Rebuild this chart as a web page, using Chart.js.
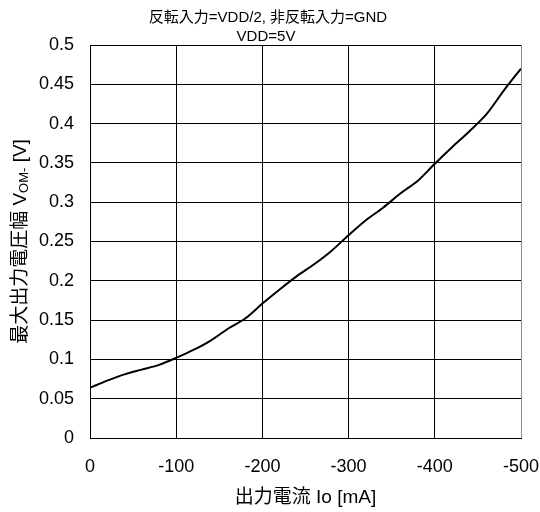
<!DOCTYPE html>
<html>
<head>
<meta charset="utf-8">
<script src="https://cdn.jsdelivr.net/npm/chart.js@4.4.1/dist/chart.umd.min.js"></script>
<style>
  html, body { margin: 0; padding: 0; background: #ffffff; }
  #wrap { width: 540px; height: 512px; }
</style>
</head>
<body>
<div id="wrap"><canvas id="c" width="540" height="512"></canvas></div>
<script>
// Output current (mA) and maximum output swing V_OM- (V)
const currentMA = [0, -20, -40, -60, -80, -100, -120, -140, -160, -180, -200,
  -220, -240, -260, -280, -300, -320, -340, -360, -380, -400,
  -420, -440, -460, -480, -500];
const swingV = [0.064, 0.073, 0.081, 0.087, 0.093, 0.102, 0.112, 0.124, 0.139, 0.152, 0.171,
  0.189, 0.206, 0.221, 0.238, 0.258, 0.277, 0.293, 0.311, 0.327, 0.349,
  0.370, 0.390, 0.412, 0.442, 0.470];

const xTickValues = [-500, -400, -300, -200, -100, 0];
const xTickLabels = ['-500', '-400', '-300', '-200', '-100', '0'];
const yTickValues = [0, 0.05, 0.1, 0.15, 0.2, 0.25, 0.3, 0.35, 0.4, 0.45, 0.5];
const yTickLabels = ['0', '0.05', '0.1', '0.15', '0.2', '0.25', '0.3', '0.35', '0.4', '0.45', '0.5'];

const titleLines = ['反転入力=VDD/2, 非反転入力=GND', 'VDD=5V'];
const xTitle = '出力電流 Io [mA]';
// y-axis title pieces: [text, isSubscript]
const yTitleParts = [['最大出力電圧幅 V', false], ['OM-', true], [' [V]', false]];

const FAMILY = "'Liberation Sans', Arial, 'Noto Sans CJK JP', sans-serif";

function labelFor(values, labels, v) {
  for (let i = 0; i < values.length; i++) {
    if (Math.abs(values[i] - v) < 1e-9) return labels[i];
  }
  return '';
}

// Draws the two-line heading and the rotated y title with a subscript
const textPlugin = {
  id: 'chartTexts',
  afterDraw(chart) {
    const ctx = chart.ctx;
    const area = chart.chartArea;
    ctx.save();
    ctx.fillStyle = '#000';
    ctx.textAlign = 'center';
    ctx.textBaseline = 'middle';
    ctx.font = '15px ' + FAMILY;
    ctx.fillText(titleLines[0], 268, 18);
    ctx.fillText(titleLines[1], 266, 37);

    // rotated y title
    const mainFont = '19px ' + FAMILY;
    const subFont = '13px ' + FAMILY;
    let total = 0;
    const widths = yTitleParts.map(([t, sub]) => {
      ctx.font = sub ? subFont : mainFont;
      const w = ctx.measureText(t).width;
      total += w;
      return w;
    });
    const cy = (area.top + area.bottom) / 2;
    ctx.translate(19, cy);
    ctx.rotate(-Math.PI / 2);
    ctx.textAlign = 'left';
    ctx.textBaseline = 'alphabetic';
    let x = -total / 2;
    yTitleParts.forEach(([t, sub], i) => {
      ctx.font = sub ? subFont : mainFont;
      ctx.fillText(t, x, sub ? 9 : 7);
      x += widths[i];
    });
    ctx.restore();
  }
};

new Chart(document.getElementById('c'), {
  type: 'line',
  data: {
    datasets: [{
      data: currentMA.map((x, i) => ({ x: x, y: swingV[i] })),
      borderColor: '#000000',
      borderWidth: 2,
      pointRadius: 0,
      tension: 0.3,
      fill: false
    }]
  },
  options: {
    responsive: false,
    animation: false,
    devicePixelRatio: 1,
    layout: { padding: { top: 45, right: 19, bottom: 0, left: 0 } },
    plugins: {
      legend: { display: false },
      title: { display: false },
      tooltip: { enabled: false }
    },
    scales: {
      x: {
        type: 'linear',
        reverse: true,
        min: -500,
        max: 0,
        afterBuildTicks(scale) { scale.ticks = xTickValues.map(v => ({ value: v })); },
        afterFit(scale) {
          scale.height = 74;
          scale.paddingLeft = 0;
          scale.paddingRight = 0;
        },
        ticks: {
          color: '#000',
          padding: 18,
          maxRotation: 0,
          font: { family: FAMILY, size: 18 },
          callback: v => labelFor(xTickValues, xTickLabels, v)
        },
        grid: {
          drawTicks: false,
          lineWidth: 1,
          color: ctx => (ctx.tick && ctx.tick.value === -500) ? '#8c8c8c' : '#000000'
        },
        border: { display: true, color: '#000000', width: 1 },
        title: {
          display: true,
          text: xTitle,
          color: '#000',
          font: { family: FAMILY, size: 19 },
          padding: { top: 0, bottom: 3 }
        }
      },
      y: {
        type: 'linear',
        min: 0,
        max: 0.5,
        afterBuildTicks(scale) { scale.ticks = yTickValues.map(v => ({ value: v })); },
        afterFit(scale) { scale.width = 90; },
        ticks: {
          color: '#000',
          padding: 16,
          font: { family: FAMILY, size: 18 },
          callback: v => labelFor(yTickValues, yTickLabels, v)
        },
        grid: { drawTicks: false, lineWidth: 1, color: '#000000' },
        border: { display: true, color: '#000000', width: 1 }
      }
    }
  },
  plugins: [textPlugin]
});
</script>
</body>
</html>
